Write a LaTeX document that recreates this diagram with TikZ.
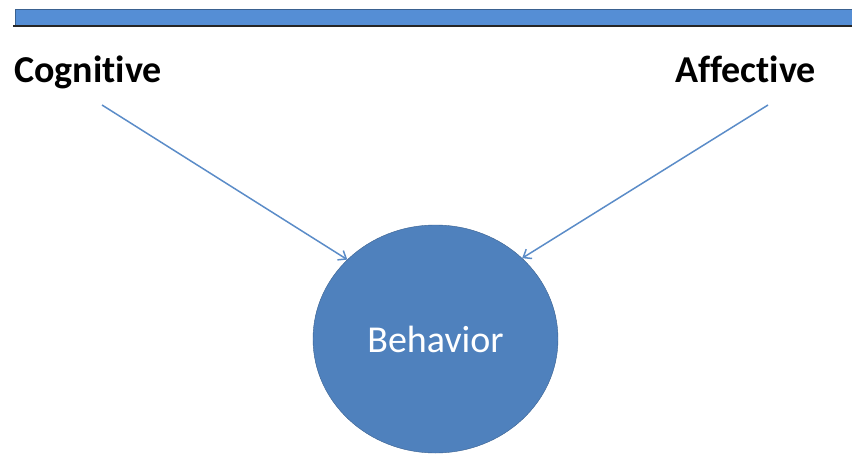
\documentclass[tikz,border=0pt]{standalone}
\usepackage{fontspec}
\setmainfont{Carlito}[Ligatures=NoCommon]
\usetikzlibrary{positioning, arrows.meta, shapes.geometric}
\definecolor{barblue}{HTML}{558ED5}
\definecolor{ballblue}{HTML}{4F81BD}
\definecolor{balledge}{HTML}{3A6190}
\definecolor{lineblue}{HTML}{5B8CC8}

\begin{document}
\begin{tikzpicture}[x=1pt, y=-1pt, >={Straight Barb[length=7pt, width=11pt]}]
    \useasboundingbox (0, 0) rectangle (852, 455);
    \node (bar) [draw=balledge, fill=barblue, rectangle, minimum width=840pt, minimum height=16pt, inner sep=0pt, anchor=north west] at (15, 9) {};
    \draw [line width=2pt, black!85] ([xshift=-2pt, yshift=-1pt]bar.south west) -- ([yshift=-1pt]bar.south east);
    \node (cog) [font=\bfseries\fontsize{38}{46}\selectfont, inner sep=0pt, anchor=base] at (88, 82) {Cognitive};
    \node (aff) [font=\bfseries\fontsize{38}{46}\selectfont, inner sep=0pt, anchor=base] at (745.5, 82) {Affective};
    \node (beh) [ellipse, draw=balledge, fill=ballblue, text=white, minimum width=245pt, minimum height=228pt, inner sep=0pt, font=\fontsize{38}{46}\selectfont] at (435.5, 339) {Behavior};
    \coordinate (cogtail) at (102, 105);
    \coordinate (afftail) at (768, 105);
    \draw [->, lineblue, line width=1.5pt] (cogtail) -- (beh.138);
    \draw [->, lineblue, line width=1.5pt] (afftail) -- (beh.43);
\end{tikzpicture}
\end{document}
